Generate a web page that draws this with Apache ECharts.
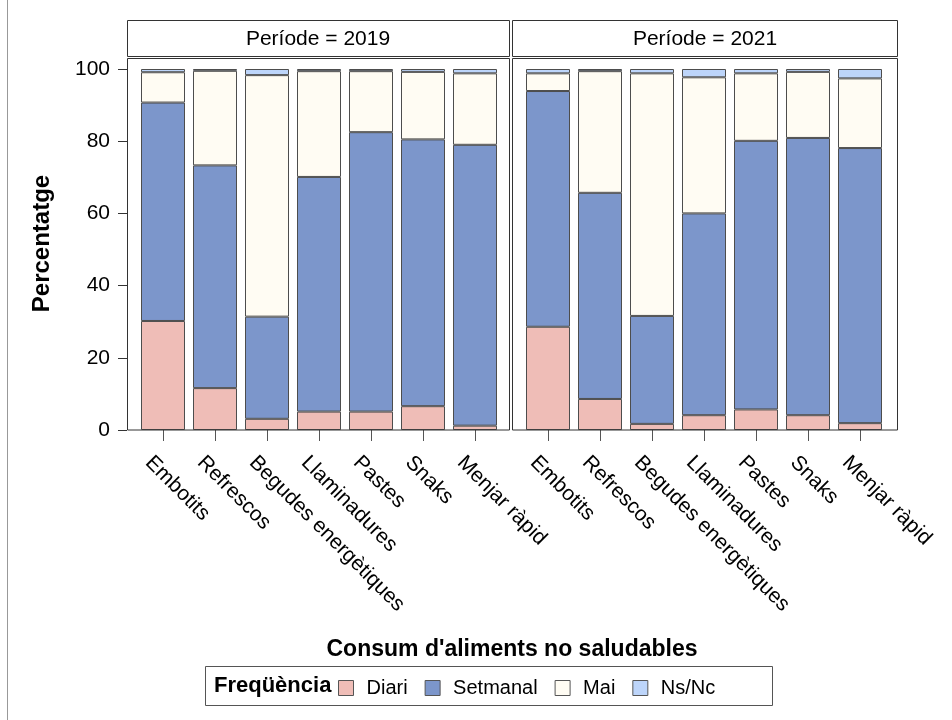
<!DOCTYPE html>
<html>
<head>
<meta charset="utf-8">
<script src="https://cdn.jsdelivr.net/npm/echarts@6/dist/echarts.min.js"></script>
<style>
html,body{margin:0;padding:0;background:#fff;}
#chart{width:952px;height:720px;}
</style>
</head>
<body>
<div id="chart"></div>
<script>
const categories = ['Embotits','Refrescos','Begudes energètiques','Llaminadures','Pastes','Snaks','Menjar ràpid'];
const periods = ['2019','2021'];
const seriesNames = ['Diari','Setmanal','Mai','Ns/Nc'];
const yTicks = [0,20,40,60,80,100];

const diari2019    = [30.2, 11.6, 3.1, 5.1, 5.1, 6.6, 1.2];
const setmanal2019 = [60.5, 61.7, 28.3, 65.0, 77.4, 73.9, 77.8];
const mai2019      = [8.4, 26.2, 66.9, 29.3, 16.9, 18.7, 19.8];
const nsnc2019     = [0.9, 0.5, 1.7, 0.6, 0.6, 0.8, 1.2];

const diari2021    = [28.6, 8.6, 1.7, 4.1, 5.7, 4.1, 1.9];
const setmanal2021 = [65.3, 57.1, 29.9, 55.9, 74.4, 76.8, 76.2];
const mai2021      = [4.9, 33.7, 67.2, 37.7, 18.7, 18.3, 19.3];
const nsnc2021     = [1.2, 0.6, 1.2, 2.3, 1.2, 0.8, 2.6];

const colors = ['#EFBDB7','#7C96CB','#FFFCF3','#BDD5FA'];
const font = 'Liberation Sans, Arial, sans-serif';

const panelData = [
  [diari2019, setmanal2019, mai2019, nsnc2019],
  [diari2021, setmanal2021, mai2021, nsnc2021]
];

const chart = echarts.init(document.getElementById('chart'), null, {renderer:'canvas'});

const grids = [
  {left:137, top:69, width:364, height:361},
  {left:522, top:69, width:364, height:361}
];

const xAxes = [0,1].map(i => ({
  type:'category', gridIndex:i, data:categories,
  axisLine:{show:false},
  axisTick:{show:true, alignWithLabel:true, length:11, lineStyle:{color:'#555'}},
  axisLabel:{rotate:-45, fontSize:21, color:'#000', fontFamily:font, margin:15, interval:0,
             align:'left', verticalAlign:'top', padding:[10,0,0,0]}
}));

const yAxes = [0,1].map(i => ({
  type:'value', gridIndex:i, min:0, max:100, interval:20,
  offset:10,
  axisLine:{show:false},
  splitLine:{show:false},
  axisTick:{show:i===0, length:9, lineStyle:{color:'#333'}},
  axisLabel:{show:i===0, fontSize:21, color:'#000', fontFamily:font, margin:17},
  name: i===0 ? 'Percentatge' : '',
  nameLocation:'middle', nameGap:73,
  nameTextStyle:{fontSize:24, fontWeight:'bold', color:'#000', fontFamily:font, padding:[0,0,0,12]}
}));

const series = [];
panelData.forEach((arrs, p) => {
  arrs.forEach((arr, k) => {
    series.push({
      name: seriesNames[k], type:'bar', stack:'p'+periods[p],
      xAxisIndex:p, yAxisIndex:p, barWidth:44,
      data: arr,
      itemStyle:{color:colors[k], borderColor:'#4d4d4d', borderWidth:1},
      emphasis:{disabled:true}
    });
  });
});

const frameStyle = {fill:'none', stroke:'#333', lineWidth:1};
const graphic = [
  {type:'line', shape:{x1:7.5,y1:0,x2:7.5,y2:720}, style:{stroke:'#999', lineWidth:1}},
  {type:'rect', shape:{x:127.5,y:20.5,width:382,height:36}, style:frameStyle},
  {type:'rect', shape:{x:512.5,y:20.5,width:385,height:36}, style:frameStyle},
  {type:'rect', shape:{x:127.5,y:58.5,width:382,height:371.5}, style:frameStyle, z:10},
  {type:'rect', shape:{x:512.5,y:58.5,width:385,height:371.5}, style:frameStyle, z:10},
  {type:'text', x:318, y:39, style:{text:'Període = '+periods[0], fontSize:21, fontFamily:font, fill:'#000', textAlign:'center', textVerticalAlign:'middle'}},
  {type:'text', x:705, y:39, style:{text:'Període = '+periods[1], fontSize:21, fontFamily:font, fill:'#000', textAlign:'center', textVerticalAlign:'middle'}},
  {type:'text', x:512, y:650, style:{text:"Consum d'aliments no saludables", fontSize:23, fontWeight:'bold', fontFamily:font, fill:'#000', textAlign:'center', textVerticalAlign:'middle'}},
  {type:'rect', shape:{x:205.5,y:666.5,width:567,height:39}, style:{fill:'none', stroke:'#555', lineWidth:1}},
  {type:'text', x:214, y:686, style:{text:'Freqüència', fontSize:22, fontWeight:'bold', fontFamily:font, fill:'#000', textAlign:'left', textVerticalAlign:'middle'}}
];

chart.setOption({
  animation:false,
  backgroundColor:'#fff',
  grid: grids,
  xAxis: xAxes,
  yAxis: yAxes,
  legend:{
    data: seriesNames, left:333, top:673, itemWidth:15, itemHeight:15, itemGap:17,
    icon:'rect',
    itemStyle:{borderColor:'#555', borderWidth:1},
    textStyle:{fontSize:20, color:'#000', fontFamily:font, padding:[0,0,0,8]},
    selectedMode:false
  },
  series: series,
  graphic: graphic
});
</script>
</body>
</html>
